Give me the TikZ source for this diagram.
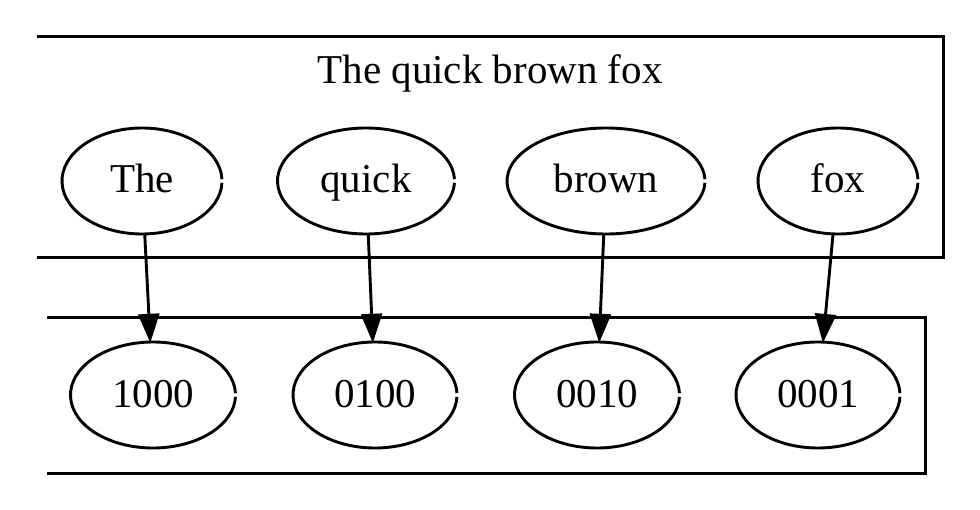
\documentclass[tikz,border=0pt]{standalone}
\usepackage{fontspec}
\setmainfont{Liberation Serif}
\usetikzlibrary{shapes.geometric,arrows.meta}
\tikzset{
  word/.style={ellipse, inner sep=0pt, minimum width=#1, minimum height=106pt, text height=30pt, text depth=6pt, font=\fontsize{41}{49}\selectfont},
  edge/.style={line width=2.9pt, -{Triangle[length=29pt,width=21pt]}, shorten >=-1pt},
  frame/.style={line width=3pt},
  ring/.style={line width=2.9pt}
}
\newcommand\ringit[3]{\draw[ring] (#1.center) ++(2:#2 and #3) arc[start angle=2,end angle=358,x radius=#2,y radius=#3];}
\begin{document}
\begin{tikzpicture}[x=1pt,y=-1pt]
\useasboundingbox (0,0) rectangle (980,510);
\draw[frame] (37,37) -- (943,37) -- (943,258) -- (37,258);
\draw[frame] (47,318) -- (925,318) -- (925,473) -- (47,473);
\node[font=\fontsize{41}{49}\selectfont, text height=30pt, text depth=6pt] (title) at (490,72) {The quick brown fox};
\node[word=160pt] (the) at (142,181) {The};
\node[word=177pt] (quick) at (366,181) {quick};
\node[word=198pt] (brown) at (606,181) {brown};
\node[word=160pt] (fox) at (838,181) {fox};
\node[word=165pt] (a) at (153,395) {1000};
\node[word=164pt] (b) at (375,395) {0100};
\node[word=165pt] (c) at (597,395) {0010};
\node[word=164pt] (d) at (818,395) {0001};
\ringit{the}{80pt}{53pt}
\ringit{quick}{88.5pt}{53pt}
\ringit{brown}{99pt}{53pt}
\ringit{fox}{80pt}{53pt}
\ringit{a}{82.5pt}{53pt}
\ringit{b}{82pt}{53pt}
\ringit{c}{82.5pt}{53pt}
\ringit{d}{82pt}{53pt}
\draw[edge] (the) -- (a);
\draw[edge] (quick) -- (b);
\draw[edge] (brown) -- (c);
\draw[edge] (fox) -- (d);
\end{tikzpicture}
\end{document}
